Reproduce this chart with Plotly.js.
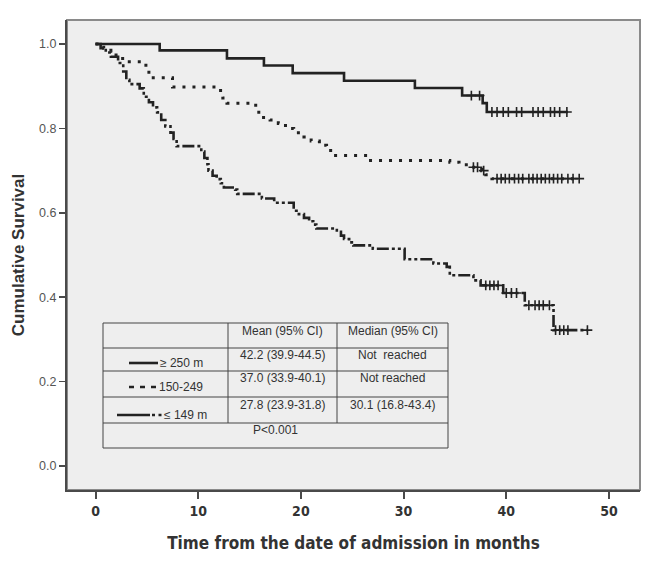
<!DOCTYPE html>
<html>
<head>
<meta charset="utf-8">
<script src="https://cdn.plot.ly/plotly-3.0.1.min.js"></script>
<style>html,body{margin:0;padding:0;background:#fff;}#chart{width:658px;height:573px;}</style>
</head>
<body>
<div id="chart"></div>
<script>
// ---------- DATA ----------
// Group >= 250 m (solid)
const g1Times = [0, 6.25, 12.8, 16.4, 19.2, 24.2, 31.1, 35.7, 37.7, 38.1, 46.0];
const g1Surv  = [1.0, 0.985, 0.966, 0.949, 0.931, 0.913, 0.896, 0.878, 0.86, 0.839, 0.839];
const g1Censor = [36.6, 37.4, 38.6, 39.1, 39.7, 40.2, 41.0, 41.5, 42.6, 43.1, 43.6, 44.3, 44.7, 45.2, 45.9];

// Group 150-249 (dotted)
const g2Times = [0, 0.8, 1.5, 2.0, 2.8, 4.5, 5.2, 7.5, 11.8, 12.4, 12.8, 15.6, 15.9, 17.0, 17.8, 18.5, 19.3, 20.3, 21.0, 21.8, 22.5, 23.2, 26.6, 34.5, 35.4, 36.5, 37.6, 38.0, 38.6, 47.1];
const g2Surv  = [1.0, 0.99, 0.98, 0.966, 0.958, 0.95, 0.92, 0.898, 0.89, 0.872, 0.86, 0.843, 0.826, 0.82, 0.812, 0.80, 0.79, 0.78, 0.77, 0.76, 0.748, 0.736, 0.724, 0.72, 0.714, 0.708, 0.70, 0.69, 0.681, 0.681];
const g2Censor = [36.8, 37.2, 37.8, 39.1, 39.5, 39.9, 40.3, 40.8, 41.2, 41.6, 42.2, 42.6, 43.0, 43.4, 43.8, 44.2, 44.6, 45.0, 45.4, 46.0, 46.5, 47.1];

// Group <= 149 m (dash-dot)
const g3Times = [0, 0.5, 1.0, 1.5, 2.2, 2.7, 3.0, 3.3, 4.3, 4.7, 5.2, 5.6, 6.0, 6.4, 6.8, 7.3, 7.6, 7.9, 10.3, 10.6, 10.9, 11.0, 11.4, 11.8, 12.2, 12.5, 13.6, 13.8, 16.2, 17.4, 19.3, 19.8, 20.3, 20.8, 21.2, 21.5, 23.5, 23.9, 24.2, 24.7, 25.1, 27.0, 30.1, 32.9, 34.2, 34.5, 36.8, 37.5, 39.7, 41.8, 44.6, 47.9];
const g3Surv  = [1.0, 0.99, 0.98, 0.97, 0.955, 0.935, 0.915, 0.905, 0.895, 0.875, 0.862, 0.85, 0.838, 0.82, 0.805, 0.79, 0.775, 0.758, 0.745, 0.73, 0.715, 0.70, 0.688, 0.68, 0.67, 0.66, 0.655, 0.645, 0.634, 0.624, 0.605, 0.597, 0.588, 0.58, 0.572, 0.563, 0.555, 0.546, 0.538, 0.53, 0.523, 0.515, 0.49, 0.48, 0.472, 0.452, 0.44, 0.428, 0.41, 0.381, 0.322, 0.322];
const g3Censor = [38.0, 38.4, 38.8, 39.2, 40.0, 40.5, 41.0, 42.2, 42.8, 43.2, 43.6, 44.2, 44.8, 45.2, 45.6, 46.0, 47.9];

const xTickVals = [0, 10, 20, 30, 40, 50];
const yTickVals = [0, 0.2, 0.4, 0.6, 0.8, 1.0];
const yTickText = ["0.0", "0.2", "0.4", "0.6", "0.8", "1.0"];

const tableHeader = ["", "Mean (95% CI)", "Median (95% CI)"];
const groupLabels = ["≥ 250 m", "150-249", "≤ 149 m"];
const meanCI = ["42.2 (39.9-44.5)", "37.0 (33.9-40.1)", "27.8 (23.9-31.8)"];
const medianCI = ["Not  reached", "Not reached", "30.1 (16.8-43.4)"];
const pValueText = "P<0.001";

const xTitle = "Time from the date of admission in months";
const yTitle = "Cumulative Survival";

// ---------- HELPERS ----------
const W = 658, H = 573;
const M = {l: 67, r: 18, t: 20, b: 83};
const PW = W - M.l - M.r, PH = H - M.t - M.b;
const px = x => (x - M.l) / PW;           // pixel x -> paper
const py = y => (H - M.b - y) / PH;        // pixel y -> paper

function survAt(times, surv, t) {
  let s = surv[0];
  for (let i = 0; i < times.length; i++) { if (times[i] <= t) s = surv[i]; else break; }
  return s;
}

const INK = '#222222';
const styles = [
  {dash: 'solid', width: 2.6},
  {dash: '3px,7px', width: 3},
  {dash: '12px,3px,3px,3px,3px,3px', width: 2.6}
];
const groups = [
  [g1Times, g1Surv, g1Censor],
  [g2Times, g2Surv, g2Censor],
  [g3Times, g3Surv, g3Censor]
];

const traces = [];
groups.forEach((g, i) => {
  traces.push({
    x: g[0], y: g[1], type: 'scatter', mode: 'lines',
    line: {shape: 'hv', color: INK, width: styles[i].width, dash: styles[i].dash},
    showlegend: false, hoverinfo: 'skip'
  });
  traces.push({
    x: g[2], y: g[2].map(t => survAt(g[0], g[1], t)), type: 'scatter', mode: 'markers',
    marker: {symbol: 'cross-thin', size: 7, line: {color: INK, width: 1.6}},
    showlegend: false, hoverinfo: 'skip'
  });
});

// ---------- TABLE ----------
const tL = 103, tR = 448, c1 = 228, c2 = 337;
const rowY = [323, 348, 371, 397, 423, 448];
const LC = '#444';
const shapes = [];
// light outer frame (top/right edges)
shapes.push({type: 'rect', xref: 'paper', yref: 'paper', x0: 0, x1: 1, y0: 0, y1: 1, line: {color: '#8a8a8a', width: 2}, fillcolor: 'rgba(0,0,0,0)', layer: 'below'});
shapes.push({type: 'rect', xref: 'paper', yref: 'paper', x0: px(tL), x1: px(tR), y0: py(rowY[5]), y1: py(rowY[0]), line: {color: LC, width: 1}, fillcolor: 'rgba(0,0,0,0)'});
for (let k = 1; k <= 4; k++) {
  shapes.push({type: 'line', xref: 'paper', yref: 'paper', x0: px(tL), x1: px(tR), y0: py(rowY[k]), y1: py(rowY[k]), line: {color: LC, width: 1}});
}
[c1, c2].forEach(c => shapes.push({type: 'line', xref: 'paper', yref: 'paper', x0: px(c), x1: px(c), y0: py(rowY[4]), y1: py(rowY[0]), line: {color: LC, width: 1}}));

// legend line samples in table
const legY = [363, 387, 415];
shapes.push({type: 'line', xref: 'paper', yref: 'paper', x0: px(129), x1: px(158), y0: py(legY[0]), y1: py(legY[0]), line: {color: INK, width: 2.6}});
shapes.push({type: 'line', xref: 'paper', yref: 'paper', x0: px(129), x1: px(158), y0: py(legY[1]), y1: py(legY[1]), line: {color: INK, width: 2.6, dash: '5px,6px'}});
shapes.push({type: 'line', xref: 'paper', yref: 'paper', x0: px(117), x1: px(150), y0: py(legY[2]), y1: py(legY[2]), line: {color: INK, width: 2.6}});
shapes.push({type: 'line', xref: 'paper', yref: 'paper', x0: px(152), x1: px(162), y0: py(legY[2]), y1: py(legY[2]), line: {color: INK, width: 2.6, dash: '3px,3.5px'}});

const TF = {family: 'Liberation Sans, Arial, sans-serif', size: 12, color: '#333'};
const ann = [];
function txt(x, y, s, anchor) {
  ann.push({xref: 'paper', yref: 'paper', x: px(x), y: py(y), text: s, showarrow: false,
    xanchor: anchor || 'center', yanchor: 'middle', font: TF});
}
txt((c1 + c2) / 2, 331, tableHeader[1]);
txt((c2 + tR) / 2, 331, tableHeader[2]);
const rowTextY = [355, 378, 405];
for (let r = 0; r < 3; r++) {
  txt((c1 + c2) / 2, rowTextY[r], meanCI[r]);
  txt((c2 + tR) / 2, rowTextY[r], medianCI[r]);
}
txt(158, legY[0], groupLabels[0], 'left');
txt(157, legY[1], groupLabels[1], 'left');
txt(162, legY[2], groupLabels[2], 'left');
txt((tL + tR) / 2, 430, pValueText);

// ---------- LAYOUT ----------
const layout = {
  width: W, height: H,
  margin: M,
  paper_bgcolor: '#ffffff',
  plot_bgcolor: '#eeeeee',
  showlegend: false,
  xaxis: {
    range: [-2.775, 53.02], tickvals: xTickVals, ticktext: xTickVals.map(String),
    showgrid: false, zeroline: false, showline: true, mirror: false,
    linecolor: '#4a4a4a', linewidth: 2, ticks: 'outside', ticklen: 7, tickwidth: 2, tickcolor: '#4a4a4a',
    tickfont: {family: 'Liberation Sans Narrow, DejaVu Sans Condensed, sans-serif', size: 14, color: '#333', weight: 'bold'},
    title: {text: xTitle, standoff: 19, font: {family: 'Liberation Sans Narrow, DejaVu Sans Condensed, sans-serif', size: 17, color: '#333', weight: 'bold'}}
  },
  yaxis: {
    range: [-0.0568, 1.057], tickvals: yTickVals, ticktext: yTickText,
    showgrid: false, zeroline: false, showline: true, mirror: false,
    linecolor: '#4a4a4a', linewidth: 2, ticks: 'outside', ticklen: 6, tickwidth: 1.5, tickcolor: '#4a4a4a',
    tickfont: {family: 'Liberation Sans, Arial, sans-serif', size: 12.5, color: '#555'},
    title: {text: yTitle, standoff: 10, font: {family: 'Liberation Sans, Arial, sans-serif', size: 17, color: '#333', weight: 'bold'}}
  },
  shapes: shapes,
  annotations: ann
};

Plotly.newPlot('chart', traces, layout, {staticPlot: true, displayModeBar: false});
</script>
</body>
</html>
